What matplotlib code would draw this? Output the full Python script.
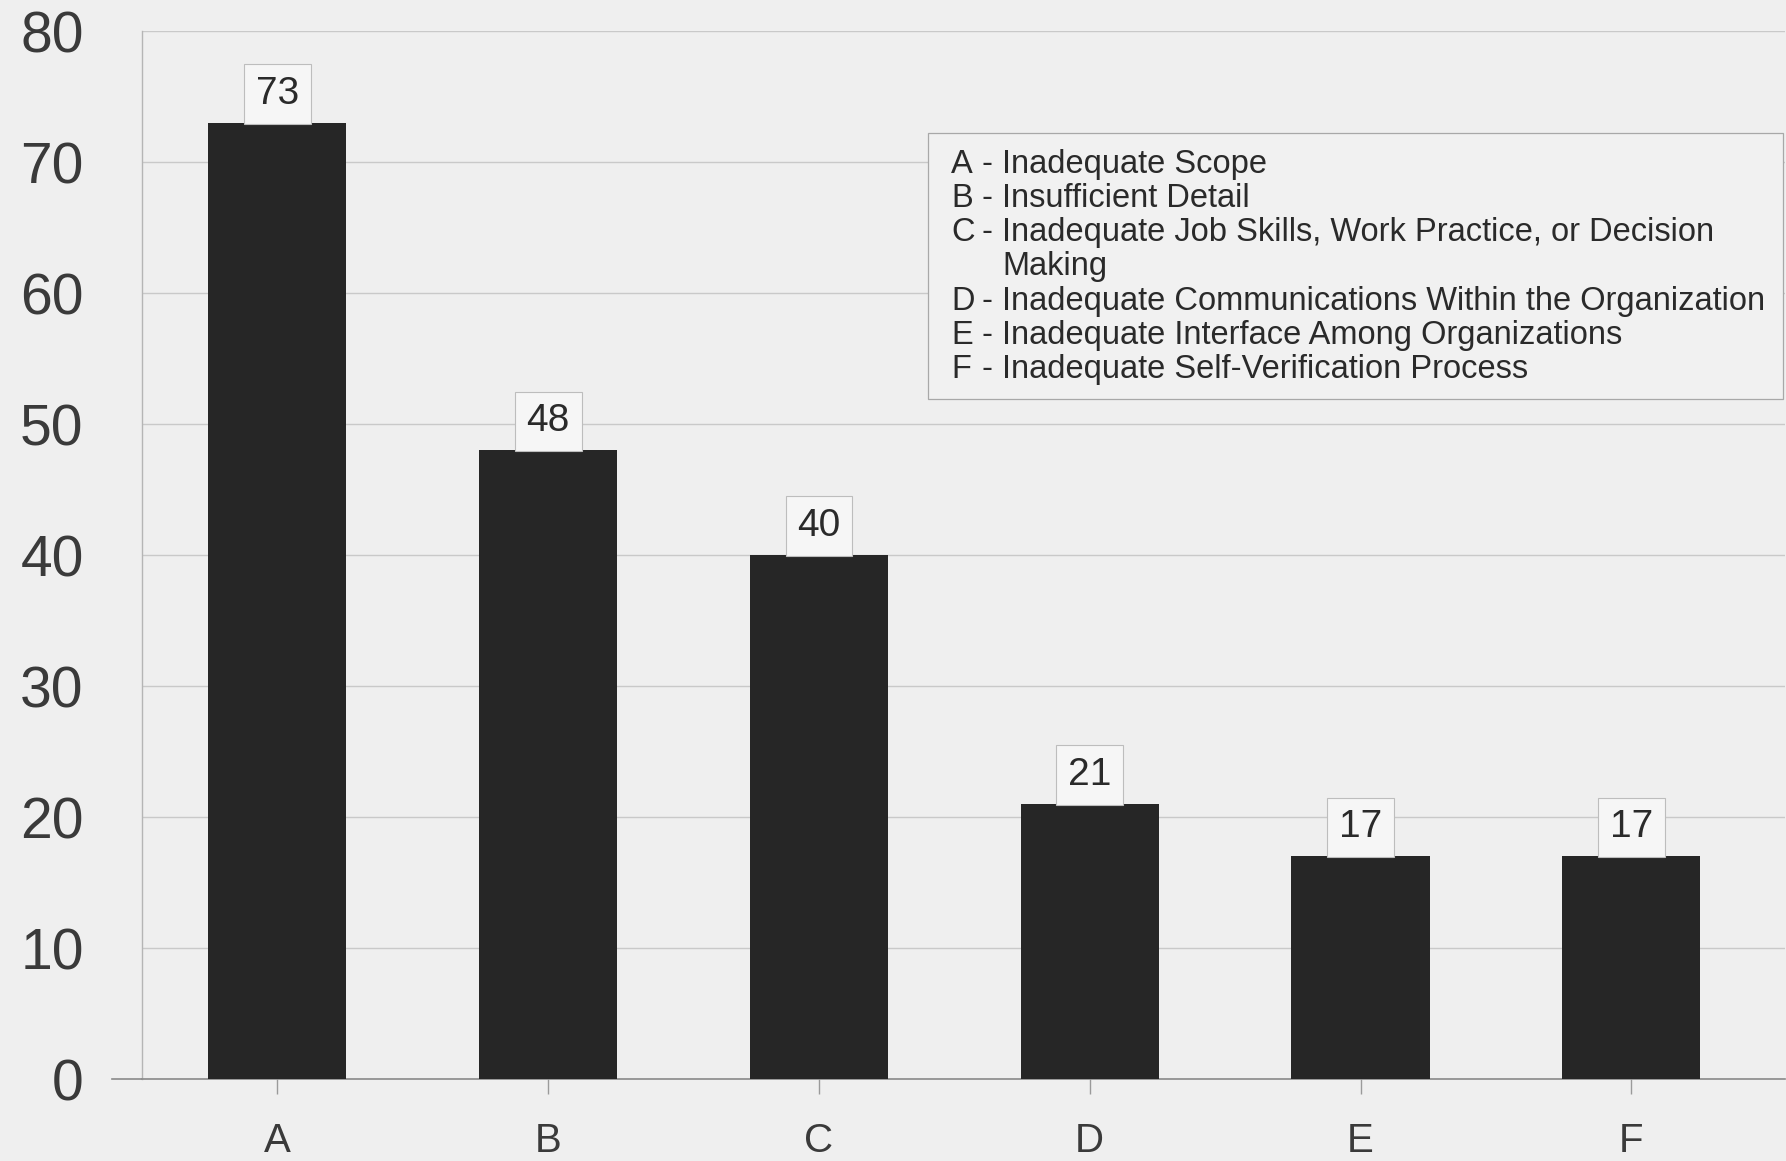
import matplotlib
matplotlib.use("Agg")
import matplotlib.pyplot as plt
from matplotlib.patches import Rectangle

# ==========================================
# DATA
# ==========================================
categories = ['A', 'B', 'C', 'D', 'E', 'F']
counts = [73, 48, 40, 21, 17, 17]
descriptions = [
    ['Inadequate Scope'],
    ['Insufficient Detail'],
    ['Inadequate Job Skills, Work Practice, or Decision', 'Making'],
    ['Inadequate Communications Within the Organization'],
    ['Inadequate Interface Among Organizations'],
    ['Inadequate Self-Verification Process'],
]
y_ticks = [0, 10, 20, 30, 40, 50, 60, 70, 80]

plt.rcParams['font.family'] = ['Liberation Sans', 'DejaVu Sans']

bg = '#efefef'
fig = plt.figure(figsize=(17.86, 11.61), dpi=100, facecolor=bg)
ax = fig.add_axes([0.0795, 0.0706, 0.92, 0.9024])
ax.set_facecolor(bg)

# ==========================================
# BARS
# ==========================================
x = list(range(len(categories)))
ax.bar(x, counts, width=0.51, color='#262626', zorder=3)

for xi, v in zip(x, counts):
    ax.annotate(str(v), (xi, v), xytext=(0, 8), textcoords='offset points',
                ha='center', va='bottom', fontsize=28, color='#2a2a2a', zorder=4,
                bbox=dict(boxstyle='square,pad=0.3', facecolor='#f6f6f6',
                          edgecolor='#bdbdbd', linewidth=0.8))

# ==========================================
# AXES STYLING
# ==========================================
ax.set_xlim(-0.5, 5.568)
ax.set_ylim(0, 80)
ax.set_yticks(y_ticks)
ax.set_xticks(x)
ax.set_xticklabels(categories)
ax.grid(axis='y', color='#c9c9c9', linewidth=1.0, zorder=0)
for s in ['top', 'right']:
    ax.spines[s].set_visible(False)
ax.spines['left'].set_color('#b5b5b5')
ax.spines['left'].set_linewidth(1.0)
ax.spines['bottom'].set_color('#8a8a8a')
ax.spines['bottom'].set_linewidth(1.2)
ax.axhline(0, xmin=-0.018, xmax=0, color='#8a8a8a', linewidth=1.2, clip_on=False)

ax.tick_params(axis='y', length=0, pad=42, labelsize=41, labelcolor='#3a3a3a')
ax.tick_params(axis='x', length=11, width=1.0, color='#9a9a9a', pad=20,
               labelsize=29, labelcolor='#3a3a3a')

# ==========================================
# LEGEND BOX (key for the letters)
# ==========================================
fig.patches.append(Rectangle((0.5196, 0.6563), 0.4787, 0.2291, transform=fig.transFigure,
                             facecolor='#f1f1f1', edgecolor='#a8a8a8', linewidth=0.9, zorder=5))

y = 0.8579
step = 0.02929
for letter, lines in zip(categories, descriptions):
    fig.text(0.5325, y, letter, fontsize=23.5, color='#2a2a2a', va='center', zorder=6)
    fig.text(0.5497, y, '-', fontsize=23.5, color='#2a2a2a', va='center', zorder=6)
    for line in lines:
        fig.text(0.561, y, line, fontsize=23.5, color='#2a2a2a', va='center', zorder=6)
        y -= step

plt.savefig('out.png', dpi=100, facecolor=bg)
